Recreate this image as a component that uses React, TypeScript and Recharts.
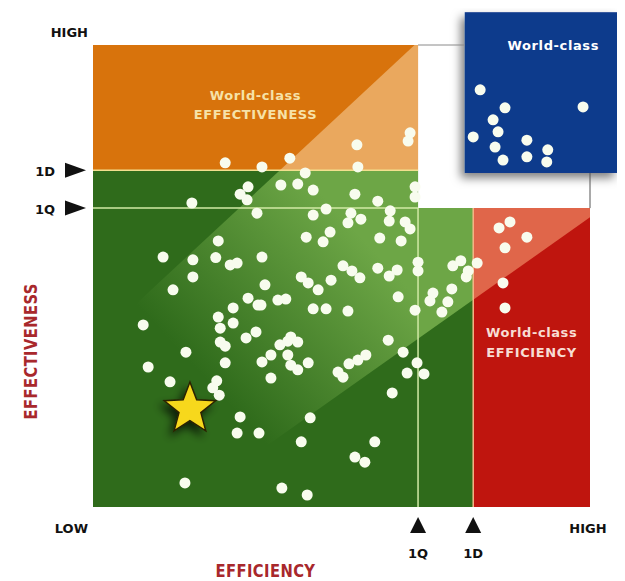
import React from 'react';
import {
  ReferenceArea,
  ReferenceLine,
  Scatter,
  ScatterChart,
  XAxis,
  YAxis,
} from 'recharts';

// thresholds on a 0 (low) .. 100 (high) scale
const efficiencyQuartile = 65.4;
const efficiencyDecile = 76.5;
const effectivenessQuartile = 64.7;
const effectivenessDecile = 72.9;

const xTicks = [0, efficiencyQuartile, efficiencyDecile, 100];
const xTickLabels = ['LOW', '1Q', '1D', 'HIGH'];
const yTicks = [effectivenessQuartile, effectivenessDecile, 100];
const yTickLabels = ['1Q', '1D', 'HIGH'];

// [efficiency, effectiveness]
const peers: [number, number][] = [
  [26.6, 74.5], [34.0, 73.6], [39.6, 75.5], [42.7, 72.3], [53.1, 78.4], [53.3, 73.6], [63.8, 81.0], [63.4, 79.2],
  [29.6, 67.7], [31.2, 69.3], [31.0, 66.5], [37.8, 69.7], [41.2, 69.9], [44.3, 68.6], [52.7, 67.7], [57.3, 66.2],
  [64.8, 69.3], [64.8, 67.1], [19.9, 65.8],
  [33.0, 63.6], [44.3, 63.2], [46.9, 64.5], [51.9, 63.6], [53.9, 62.3], [51.3, 61.5], [59.8, 64.1], [59.6, 61.9],
  [62.8, 61.7], [63.8, 60.2], [25.2, 57.6], [42.9, 58.4], [46.3, 57.4], [47.7, 59.5], [57.7, 58.2], [62.0, 57.6],
  [14.1, 54.1], [20.1, 53.5], [24.7, 54.0], [27.6, 52.4], [29.0, 52.8], [34.0, 54.1], [50.3, 52.2], [52.1, 51.1],
  [53.7, 49.6], [57.3, 51.7], [59.6, 50.0], [61.2, 51.3], [65.4, 53.0], [65.4, 51.1],
  [72.4, 52.2], [74.0, 53.3], [75.1, 49.8], [75.5, 51.1], [68.4, 46.3], [67.8, 44.6], [72.2, 47.2], [71.4, 44.4],
  [70.2, 42.2], [77.3, 52.8],
  [81.7, 60.4], [83.9, 61.7], [87.3, 58.4], [82.9, 56.1], [82.5, 48.5], [82.9, 43.1],
  [20.1, 49.8], [16.1, 47.0], [41.9, 49.8], [43.3, 48.5], [47.9, 49.1], [45.3, 47.0], [34.6, 48.1], [37.2, 44.8],
  [38.8, 45.0], [33.8, 43.7], [61.4, 45.5], [44.3, 42.9], [46.9, 42.9], [51.3, 42.4], [64.8, 42.6], [31.2, 45.2],
  [33.2, 43.7], [28.2, 43.1], [25.2, 41.1], [28.2, 39.8], [10.1, 39.4], [25.6, 38.7],
  [30.8, 36.6], [32.8, 37.9], [25.6, 35.7], [26.6, 34.8], [39.8, 36.8], [59.4, 36.1], [18.7, 33.5], [11.1, 30.3],
  [15.5, 27.1], [26.6, 31.2], [34.0, 31.4], [37.6, 35.1], [39.2, 35.9], [41.2, 35.7], [35.8, 32.9], [39.2, 32.9],
  [39.8, 30.7], [41.2, 29.7], [43.3, 31.2], [35.8, 27.9], [49.3, 29.2], [50.3, 28.1], [51.5, 31.0], [53.3, 31.8],
  [54.9, 32.9], [62.4, 33.5], [65.2, 31.2], [63.2, 29.0], [66.6, 28.8], [60.2, 24.7], [24.9, 27.3], [24.1, 25.8],
  [25.4, 24.2],
  [29.6, 19.5], [43.7, 19.3], [29.0, 16.0], [33.4, 16.0], [41.9, 14.1], [56.7, 14.1], [52.7, 10.8], [54.7, 9.7],
  [18.5, 5.2], [38.0, 4.1], [43.1, 2.6],
];

const worldClass: [number, number][] = [
  [77.9, 90.3], [82.9, 86.4], [80.5, 83.8], [81.5, 81.2], [76.5, 80.1], [80.9, 77.9],
  [82.5, 75.1], [87.3, 79.4], [87.3, 75.8], [91.5, 77.3], [91.3, 74.7], [98.6, 86.6],
];

const ownPosition: [number, number][] = [[19.5, 21.2]];

// world-class inset box (sticks out of the plot)
const worldClassBox = { x1: 74.8, x2: 105.6, y1: 72.3, y2: 107.1 };

const toPoints = (list: [number, number][]) => list.map(([x, y]) => ({ x, y }));

// light diagonal band edges
const bandTop = (x: number) => x + 35.3;
const bandBottom = (x: number) => 0.76 * x - 13.3;

type Pt = [number, number];

function clip(poly: Pt[], f: (p: Pt) => number): Pt[] {
  const out: Pt[] = [];
  for (let i = 0; i < poly.length; i++) {
    const a = poly[i];
    const b = poly[(i + 1) % poly.length];
    const fa = f(a);
    const fb = f(b);
    if (fa >= 0) out.push(a);
    if (fa >= 0 !== fb >= 0) {
      const t = fa / (fa - fb);
      out.push([a[0] + t * (b[0] - a[0]), a[1] + t * (b[1] - a[1])]);
    }
  }
  return out;
}

const RegionShape = (props: any) => {
  const { x, y, width, height, bounds, base, light, fade, id } = props;
  const [x1, x2, y1, y2] = bounds;
  const toPx = ([dx, dy]: Pt): Pt => [
    x + ((dx - x1) / (x2 - x1)) * width,
    y + height - ((dy - y1) / (y2 - y1)) * height,
  ];
  let poly: Pt[] = [[x1, y1], [x2, y1], [x2, y2], [x1, y2]];
  poly = clip(poly, p => bandTop(p[0]) - p[1]);
  poly = clip(poly, p => p[1] - bandBottom(p[0]));
  const pts = poly.map(p => toPx(p).join(',')).join(' ');
  const g0 = toPx([25, 25]);
  const g1 = toPx([56, 56]);
  return (
    <g>
      {fade && (
        <defs>
          <linearGradient id={id} gradientUnits="userSpaceOnUse" x1={g0[0]} y1={g0[1]} x2={g1[0]} y2={g1[1]}>
            <stop offset="0%" stopColor={light} stopOpacity={0} />
            <stop offset="100%" stopColor={light} stopOpacity={1} />
          </linearGradient>
        </defs>
      )}
      <rect x={x} y={y} width={width} height={height} fill={base} />
      {poly.length > 2 && <polygon points={pts} fill={fade ? `url(#${id})` : light} />}
    </g>
  );
};

const BlueBox = (props: any) => {
  const { x, y, width, height } = props;
  return (
    <g>
      <defs>
        <filter id="boxShadow" x="-20%" y="-20%" width="140%" height="140%">
          <feDropShadow dx="-4" dy="5" stdDeviation="5" floodColor="#000" floodOpacity="0.5" />
        </filter>
      </defs>
      <rect x={x} y={y} width={width} height={height} fill="#0c3a8c" filter="url(#boxShadow)" />
    </g>
  );
};

const RegionLabel = (props: any) => {
  const { viewBox, lines, top, gap, dx = 0, color } = props;
  const cx = viewBox.x + viewBox.width / 2 + dx;
  return (
    <text
      textAnchor="middle"
      fill={color}
      fontFamily="DejaVu Sans"
      fontWeight="bold"
      fontSize={13}
      letterSpacing={0.6}
    >
      {lines.map((l: string, i: number) => (
        <tspan key={l} x={cx} y={viewBox.y + top + i * gap}>
          {l}
        </tspan>
      ))}
    </text>
  );
};

const Dot = (props: any) => <circle cx={props.cx} cy={props.cy} r={5.5} fill="#f8fcee" />;

const Star = (props: any) => {
  const { cx, cy } = props;
  const pts: string[] = [];
  for (let i = 0; i < 10; i++) {
    const r = i % 2 === 0 ? 27 : 11.5;
    const a = -Math.PI / 2 + (i * Math.PI) / 5;
    pts.push(`${cx + r * Math.cos(a)},${cy + r * Math.sin(a)}`);
  }
  return (
    <g>
      <defs>
        <filter id="starShadow" x="-60%" y="-60%" width="220%" height="220%">
          <feDropShadow dx="-4" dy="5" stdDeviation="4" floodColor="#000" floodOpacity="0.7" />
        </filter>
      </defs>
      <polygon points={pts.join(' ')} fill="#f7d81c" stroke="#2a2205" strokeWidth={1.5} filter="url(#starShadow)" />
    </g>
  );
};

const tickFont = { fontFamily: 'DejaVu Sans', fontWeight: 'bold', fontSize: 13, fill: '#111' };

const XTick = (props: any) => {
  const { x, y, payload } = props;
  const label = xTickLabels[xTicks.indexOf(payload.value)];
  if (label === 'LOW')
    return <text x={x - 5} y={y + 26} textAnchor="end" {...tickFont}>{label}</text>;
  if (label === 'HIGH')
    return <text x={x - 2} y={y + 26} textAnchor="middle" {...tickFont}>{label}</text>;
  return (
    <g>
      <path d={`M${x - 8},${y + 26} L${x + 8},${y + 26} L${x},${y + 10} Z`} fill="#111" />
      <text x={x} y={y + 51} textAnchor="middle" {...tickFont}>{label}</text>
    </g>
  );
};

const YTick = (props: any) => {
  const { x, y, payload } = props;
  const label = yTickLabels[yTicks.indexOf(payload.value)];
  if (label === 'HIGH')
    return <text x={x - 5} y={y - 8} textAnchor="end" {...tickFont}>{label}</text>;
  return (
    <g>
      <path d={`M${x - 28},${y - 7.5} L${x - 28},${y + 7.5} L${x - 7},${y} Z`} fill="#111" />
      <text x={x - 38} y={y + 6} textAnchor="end" {...tickFont}>{label}</text>
    </g>
  );
};

const titleFont = { fontFamily: 'DejaVu Sans', fontWeight: 'bold', fontSize: 18, fill: '#a8282c', letterSpacing: 0.5 };

const App = () => {
  return (
    <div style={{ width: 617, height: 573 }}>
      <ScatterChart width={617} height={573} margin={{ top: 37, right: 35, bottom: 0, left: 0 }}>
        <XAxis
          type="number"
          dataKey="x"
          domain={[0, 100]}
          ticks={xTicks}
          interval={0}
          height={74}
          axisLine={false}
          tickLine={false}
          tickSize={0}
          tickMargin={0}
          tick={(p: any) => <XTick {...p} />}
          label={{
            content: (p: any) => {
              const vb = p.viewBox;
              return (
                <text
                  transform={`translate(${vb.x + vb.width * 0.347},${vb.y + 70}) scale(0.82,1)`}
                  textAnchor="middle"
                  {...titleFont}
                >
                  EFFICIENCY
                </text>
              );
            },
          }}
        />
        <YAxis
          type="number"
          dataKey="y"
          domain={[0, 100]}
          ticks={yTicks}
          interval={0}
          width={85}
          axisLine={false}
          tickLine={false}
          tickSize={0}
          tickMargin={0}
          tick={(p: any) => <YTick {...p} />}
          label={{
            content: (p: any) => {
              const vb = p.viewBox;
              return (
                <text
                  transform={`translate(${vb.x + 29},${vb.y + vb.height * 0.663}) rotate(-90) scale(0.82,1)`}
                  textAnchor="middle"
                  {...titleFont}
                >
                  EFFECTIVENESS
                </text>
              );
            },
          }}
        />

        <ReferenceLine segment={[{ x: efficiencyQuartile, y: 100 }, { x: worldClassBox.x1, y: 100 }]} stroke="#8a8a8a" />
        <ReferenceLine segment={[{ x: 100, y: effectivenessQuartile }, { x: 100, y: worldClassBox.y1 }]} stroke="#555" />

        <ReferenceArea
          x1={0}
          x2={efficiencyQuartile}
          y1={effectivenessDecile}
          y2={100}
          fillOpacity={1}
          shape={(p: any) => (
            <RegionShape {...p} bounds={[0, efficiencyQuartile, effectivenessDecile, 100]} base="#d8730c" light="#eaa85e" />
          )}
          label={<RegionLabel lines={['World-class', 'EFFECTIVENESS']} top={55} gap={19} color="#f6e2a8" />}
        />
        <ReferenceArea
          x1={0}
          x2={efficiencyQuartile}
          y1={0}
          y2={effectivenessDecile}
          fillOpacity={1}
          shape={(p: any) => (
            <RegionShape {...p} bounds={[0, efficiencyQuartile, 0, effectivenessDecile]} base="#2f6b1b" light="#6da646" fade id="greenFade" />
          )}
        />
        <ReferenceArea
          x1={efficiencyQuartile}
          x2={efficiencyDecile}
          y1={0}
          y2={effectivenessQuartile}
          fillOpacity={1}
          shape={(p: any) => (
            <RegionShape {...p} bounds={[efficiencyQuartile, efficiencyDecile, 0, effectivenessQuartile]} base="#2f6b1b" light="#6da646" />
          )}
        />
        <ReferenceArea
          x1={efficiencyDecile}
          x2={100}
          y1={0}
          y2={effectivenessQuartile}
          fillOpacity={1}
          shape={(p: any) => (
            <RegionShape {...p} bounds={[efficiencyDecile, 100, 0, effectivenessQuartile]} base="#bf150e" light="#e0664a" />
          )}
          label={<RegionLabel lines={['World-class', 'EFFICIENCY']} top={129} gap={20} color="#f8ddd4" />}
        />

        <ReferenceLine segment={[{ x: 0, y: effectivenessDecile }, { x: efficiencyQuartile, y: effectivenessDecile }]} stroke="#f2df8e" strokeWidth={1.5} />
        <ReferenceLine segment={[{ x: 0, y: effectivenessQuartile }, { x: efficiencyQuartile, y: effectivenessQuartile }]} stroke="#d2eaa6" strokeWidth={1.5} />
        <ReferenceLine segment={[{ x: efficiencyQuartile, y: 0 }, { x: efficiencyQuartile, y: effectivenessQuartile }]} stroke="#d2eaa6" strokeWidth={1.5} />
        <ReferenceLine segment={[{ x: efficiencyDecile, y: 0 }, { x: efficiencyDecile, y: effectivenessQuartile }]} stroke="#f3b987" strokeWidth={1.5} />

        <ReferenceArea
          x1={worldClassBox.x1}
          x2={worldClassBox.x2}
          y1={worldClassBox.y1}
          y2={worldClassBox.y2}
          ifOverflow="visible"
          fillOpacity={1}
          shape={(p: any) => <BlueBox {...p} />}
          label={<RegionLabel lines={['World-class']} top={38} gap={0} dx={12} color="#ffffff" />}
        />

        <Scatter data={toPoints(peers)} shape={(p: any) => <Dot {...p} />} isAnimationActive={false} />
        <Scatter data={toPoints(worldClass)} shape={(p: any) => <Dot {...p} />} isAnimationActive={false} />
        <Scatter data={toPoints(ownPosition)} shape={(p: any) => <Star {...p} />} isAnimationActive={false} />
      </ScatterChart>
    </div>
  );
};

export default App;
